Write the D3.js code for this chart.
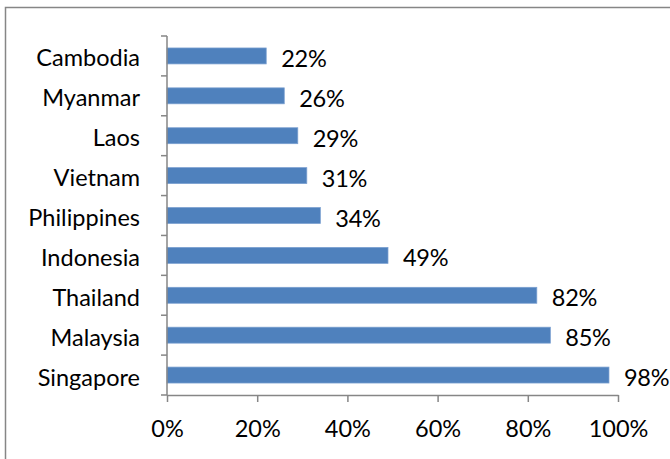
<!DOCTYPE html>
<html>
<head>
<meta charset="utf-8">
<script src="https://cdn.jsdelivr.net/npm/d3@7"></script>
<style>
  html, body { margin: 0; padding: 0; background: #fff; }
  svg { display: block; }
  text { font-family: Lato, "Open Sans", sans-serif; fill: #000; }
</style>
</head>
<body>
<svg id="chart" width="670" height="459"></svg>
<script>
const categories = ["Cambodia", "Myanmar", "Laos", "Vietnam", "Philippines", "Indonesia", "Thailand", "Malaysia", "Singapore"];
const values = [0.22, 0.26, 0.29, 0.31, 0.34, 0.49, 0.82, 0.85, 0.98];
const xTicks = [0, 0.2, 0.4, 0.6, 0.8, 1.0];

(function () {
const svg = d3.select("#chart");
const axisColor = "#868686";
const barColor = "#4f81bd";
const fontSize = 23.5;

// chart border
svg.append("rect")
  .attr("x", 5.5).attr("y", 7.5)
  .attr("width", 700).attr("height", 500)
  .attr("fill", "none").attr("stroke", axisColor).attr("stroke-width", 1.5);

const mLeft = 167, mRight = 618, mTop = 36, mBottom = 395;

const x = d3.scaleLinear().domain([0, 1]).range([mLeft, mRight]);
const y = d3.scaleBand().domain(categories).range([mTop, mBottom])
  .paddingInner(0.6).paddingOuter(0.3);

// bars
svg.append("g").selectAll("rect")
  .data(categories)
  .join("rect")
  .attr("x", x(0))
  .attr("y", d => y(d))
  .attr("width", (d, i) => x(values[i]) - x(0))
  .attr("height", y.bandwidth())
  .attr("fill", barColor)
  .attr("stroke", "#7a9fd0")
  .attr("stroke-width", 0.75);

// y axis line + ticks at band boundaries
const gy = svg.append("g");
gy.append("line")
  .attr("x1", mLeft).attr("x2", mLeft)
  .attr("y1", mTop).attr("y2", mBottom)
  .attr("stroke", axisColor).attr("stroke-width", 1.5);
const boundaries = d3.range(categories.length + 1).map(i => mTop + i * y.step());
gy.selectAll("line.tick").data(boundaries).join("line")
  .attr("class", "tick")
  .attr("x1", mLeft - 6).attr("x2", mLeft)
  .attr("y1", d => d).attr("y2", d => d)
  .attr("stroke", axisColor).attr("stroke-width", 1.5);

// category labels
gy.selectAll("text").data(categories).join("text")
  .attr("x", mLeft - 27)
  .attr("y", d => y(d) + y.bandwidth() / 2 + 10.5)
  .attr("text-anchor", "end")
  .attr("font-size", fontSize)
  .text(d => d);

// x axis
const gx = svg.append("g").attr("transform", `translate(0,${mBottom})`)
  .call(d3.axisBottom(x).tickValues(xTicks).tickFormat(d3.format(".0%")).tickSize(7).tickSizeOuter(0).tickPadding(10));
gx.select(".domain").attr("stroke", axisColor).attr("stroke-width", 1.5);
gx.selectAll(".tick line").attr("stroke", axisColor).attr("stroke-width", 1.5);
gx.selectAll(".tick text")
  .attr("font-size", fontSize)
  .attr("font-family", "Lato, 'Open Sans', sans-serif")
  .attr("fill", "#000")
  .attr("dy", null)
  .attr("y", 42);

// value labels
svg.append("g").selectAll("text")
  .data(categories)
  .join("text")
  .attr("x", (d, i) => x(values[i]) + 15)
  .attr("y", d => y(d) + y.bandwidth() / 2 + 11)
  .attr("font-size", fontSize)
  .attr("letter-spacing", -0.3)
  .text((d, i) => d3.format(".0%")(values[i]));
})();
</script>
</body>
</html>
